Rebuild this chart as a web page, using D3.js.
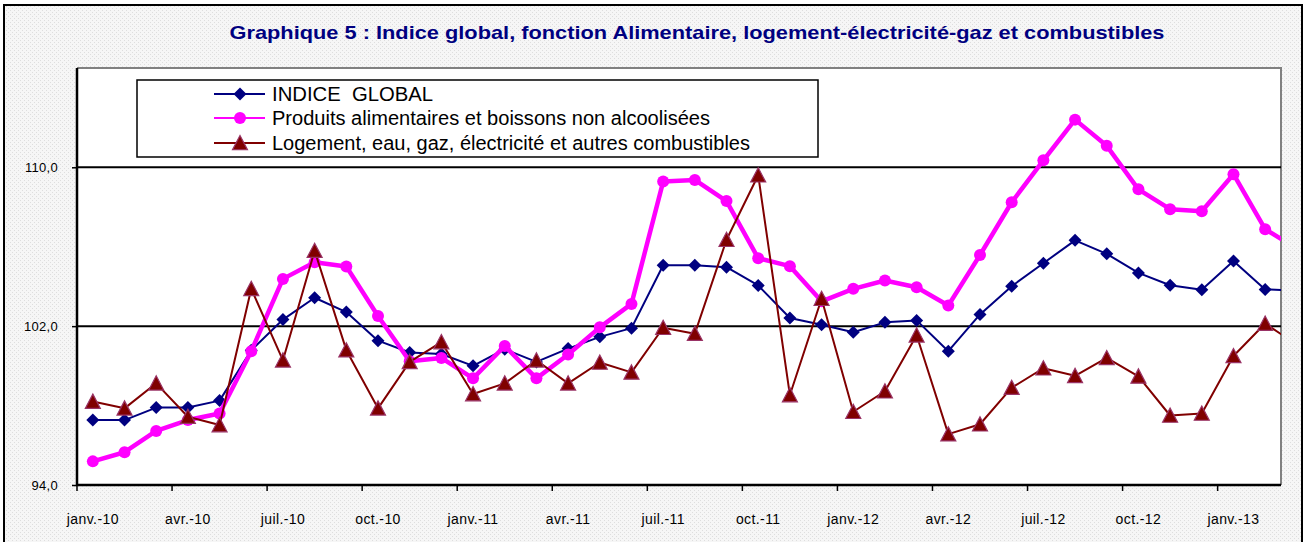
<!DOCTYPE html>
<html>
<head>
<meta charset="utf-8">
<script src="https://cdn.jsdelivr.net/npm/d3@7"></script>
<style>
  body { margin: 0; background: #fff; }
  svg { display: block; }
  text { font-family: "Liberation Sans", Arial, sans-serif; }
</style>
</head>
<body>
<svg id="chart"></svg>
<script>
// months on the x axis (the last one falls just outside the plot area)
const months = [
  "janv.-10","févr.-10","mars-10","avr.-10","mai-10","juin-10","juil.-10","août-10","sept.-10","oct.-10","nov.-10","déc.-10",
  "janv.-11","févr.-11","mars-11","avr.-11","mai-11","juin-11","juil.-11","août-11","sept.-11","oct.-11","nov.-11","déc.-11",
  "janv.-12","févr.-12","mars-12","avr.-12","mai-12","juin-12","juil.-12","août-12","sept.-12","oct.-12","nov.-12","déc.-12",
  "janv.-13","févr.-13","mars-13"
];
const tickLabels = ["janv.-10","avr.-10","juil.-10","oct.-10","janv.-11","avr.-11","juil.-11","oct.-11",
                    "janv.-12","avr.-12","juil.-12","oct.-12","janv.-13"];
const yTicks = [94, 102, 110];

const indiceGlobal = [97.27, 97.27, 97.9, 97.9, 98.25, 100.79, 102.33, 103.43, 102.71, 101.27,
  100.67, 100.6, 100.0, 100.84, 100.2, 100.87, 101.46, 101.9, 105.07, 105.07,
  104.97, 104.05, 102.41, 102.07, 101.69, 102.19, 102.29, 100.74, 102.59, 104.01,
  105.17, 106.32, 105.64, 104.68, 104.06, 103.83, 105.28, 103.85, 103.8];
const alimentaire = [95.19, 95.65, 96.72, 97.27, 97.6, 100.74, 104.38, 105.22, 105.0, 102.51,
  100.23, 100.4, 99.37, 101.0, 99.37, 100.57, 101.94, 103.12, 109.28, 109.36,
  108.3, 105.42, 105.02, 103.25, 103.88, 104.3, 103.96, 103.04, 105.58, 108.24,
  110.35, 112.4, 111.08, 108.89, 107.89, 107.79, 109.65, 106.88, 105.9];
const logement = [98.2, 97.86, 99.12, 97.44, 97.02, 103.88, 100.28, 105.8, 100.79, 97.86,
  100.2, 101.2, 98.58, 99.12, 100.28, 99.12, 100.17, 99.67, 101.92, 101.62,
  106.35, 109.6, 98.53, 103.38, 97.69, 98.72, 101.54, 96.56, 97.06, 98.9,
  99.88, 99.5, 100.4, 99.47, 97.5, 97.6, 100.5, 102.13, 101.07];

const seriesNames = ["INDICE  GLOBAL",
  "Produits alimentaires et boissons non alcoolisées",
  "Logement, eau, gaz, électricité et autres combustibles"];

const W = 1307, H = 542;
const plot = {left: 77, right: 1281, top: 68, bottom: 485};
const step = (plot.right - plot.left) / 38;

const svg = d3.select("#chart").attr("width", W).attr("height", H);

// dotted grey background like the Excel chart area
const defs = svg.append("defs");
const pat = defs.append("pattern").attr("id", "dots")
  .attr("width", 4).attr("height", 4).attr("patternUnits", "userSpaceOnUse");
pat.append("rect").attr("width", 4).attr("height", 4).attr("fill", "#f6f6f6");
pat.append("rect").attr("x", 0).attr("y", 0).attr("width", 1).attr("height", 1).attr("fill", "#dedede");
pat.append("rect").attr("x", 2).attr("y", 2).attr("width", 1).attr("height", 1).attr("fill", "#dedede");
defs.append("clipPath").attr("id", "plotclip").append("rect")
  .attr("x", plot.left).attr("y", plot.top)
  .attr("width", plot.right - plot.left).attr("height", plot.bottom - plot.top);

svg.append("rect").attr("width", W).attr("height", H).attr("fill", "#fff");
svg.append("rect").attr("x", 4).attr("y", 5).attr("width", 1298).attr("height", 560)
  .attr("fill", "url(#dots)").attr("stroke", "#000").attr("stroke-width", 2);

// title
svg.append("text")
  .attr("x", 697).attr("y", 39)
  .attr("text-anchor", "middle")
  .attr("font-size", 19).attr("font-weight", "bold")
  .attr("fill", "#000080")
  .attr("textLength", 935).attr("lengthAdjust", "spacingAndGlyphs")
  .text("Graphique 5 : Indice global, fonction Alimentaire, logement-électricité-gaz et combustibles");

// scales
const x = d3.scaleBand().domain(months)
  .range([plot.left, plot.left + step * months.length]).padding(0);
const y = d3.scaleLinear().domain([94, 115]).range([plot.bottom, plot.top]);
const cx = m => x(m) + x.bandwidth() / 2;

// plot area
svg.append("rect")
  .attr("x", plot.left).attr("y", plot.top)
  .attr("width", plot.right - plot.left).attr("height", plot.bottom - plot.top)
  .attr("fill", "#fff");
svg.append("path")
  .attr("d", `M${plot.left},${plot.top}H${plot.right}V${plot.bottom}`)
  .attr("fill", "none").attr("stroke", "#808080").attr("stroke-width", 2);

// gridlines
svg.append("g").selectAll("line").data(yTicks.filter(t => t > 94)).enter()
  .append("line")
    .attr("x1", plot.left).attr("x2", plot.right)
    .attr("y1", d => y(d)).attr("y2", d => y(d))
    .attr("stroke", "#000").attr("stroke-width", 2);

// y axis
const yAxis = svg.append("g")
  .attr("transform", "translate(" + plot.left + ",0)")
  .call(d3.axisLeft(y).tickValues(yTicks).tickSize(5).tickPadding(14)
    .tickFormat(d => d3.format(".1f")(d).replace(".", ",")));
yAxis.select(".domain").remove();
yAxis.selectAll("line").attr("stroke", "#000").attr("stroke-width", 1.5);
yAxis.selectAll("text").attr("font-size", 13).attr("fill", "#000")
  .attr("font-family", "'Liberation Sans', Arial, sans-serif").style("letter-spacing", "0.3px");

// x axis: labels centred on the month, ticks between months
const xAxis = svg.append("g")
  .attr("transform", "translate(0," + plot.bottom + ")")
  .call(d3.axisBottom(x).tickValues(tickLabels).tickSize(0).tickPadding(29));
xAxis.select(".domain").remove();
xAxis.selectAll("text").attr("font-size", 14).attr("fill", "#000")
  .attr("font-family", "'Liberation Sans', Arial, sans-serif").style("letter-spacing", "0.4px");
svg.append("g").selectAll("line").data(tickLabels).enter()
  .append("line")
    .attr("x1", d => x(d)).attr("x2", d => x(d))
    .attr("y1", plot.bottom).attr("y2", plot.bottom + 6)
    .attr("stroke", "#000").attr("stroke-width", 1.5);

// axis lines
svg.append("path")
  .attr("d", `M${plot.left},${plot.top}V${plot.bottom}H${plot.right}`)
  .attr("fill", "none").attr("stroke", "#000").attr("stroke-width", 2.5);

// marker shapes
const diamond = s => `M0,${-s}L${s},0L0,${s}L${-s},0Z`;
const triangle = s => `M0,${-s}L${s},${s * 0.9}L${-s},${s * 0.9}Z`;

const series = [
  {name: seriesNames[0], values: indiceGlobal, color: "#000080", width: 2,
   marker: g => g.append("path").attr("d", diamond(6.5)).attr("fill", "#000080")},
  {name: seriesNames[1], values: alimentaire, color: "#ff00ff", width: 4.5,
   marker: g => g.append("circle").attr("r", 6).attr("fill", "#ff00ff")},
  {name: seriesNames[2], values: logement, color: "#800000", width: 2,
   marker: g => g.append("path").attr("d", triangle(7.5)).attr("fill", "#800000")
     .attr("stroke", "#993366").attr("stroke-width", 1.2)}
];

const line = d3.line().x(d => cx(d.m)).y(d => y(d.v));
const plotG = svg.append("g").attr("clip-path", "url(#plotclip)");

series.forEach(s => {
  const pts = months.map((m, i) => ({m: m, v: s.values[i]}));
  const g = plotG.append("g");
  g.append("path").datum(pts)
    .attr("fill", "none").attr("stroke", s.color)
    .attr("stroke-width", s.width).attr("stroke-linejoin", "round")
    .attr("d", line);
  g.selectAll("g.pt").data(pts).enter()
    .append("g").attr("class", "pt")
    .attr("transform", d => "translate(" + cx(d.m) + "," + y(d.v) + ")")
    .each(function() { s.marker(d3.select(this)); });
});

// legend
const legend = svg.append("g");
legend.append("rect")
  .attr("x", 137).attr("y", 80).attr("width", 681).attr("height", 77)
  .attr("fill", "#fff").attr("stroke", "#000").attr("stroke-width", 1.5);
const legendY = [94, 118, 143];
const legendLen = [161, 438, 478];
series.forEach((s, i) => {
  const row = legend.append("g").attr("transform", "translate(0," + legendY[i] + ")");
  row.append("line").attr("x1", 214).attr("x2", 265)
    .attr("stroke", s.color).attr("stroke-width", 2);
  const mk = row.append("g").attr("transform", "translate(240,0)");
  s.marker(mk);
  row.append("text")
    .attr("x", 272).attr("y", 7)
    .attr("font-size", 19.5).attr("fill", "#000")
    .attr("textLength", legendLen[i]).attr("lengthAdjust", "spacingAndGlyphs")
    .style("white-space", "pre")
    .text(s.name);
});
</script>
</body>
</html>
